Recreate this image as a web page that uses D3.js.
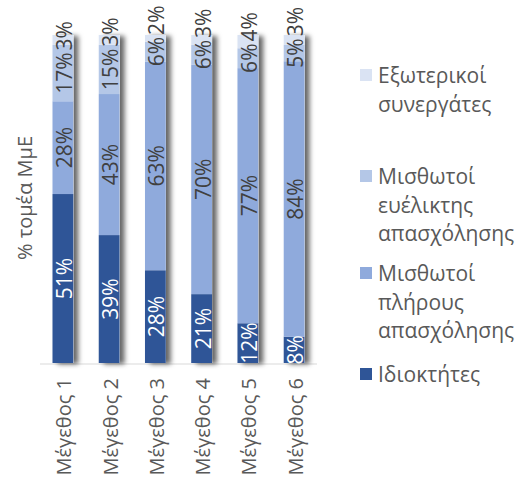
<html>
<script src='https://d3js.org/d3.v7.min.js'></script>
<style>
body {margin: 0; background: #fff;}
text {font-family: 'Open Sans', sans-serif;}
</style>
<body>
<svg id="chart" width="521" height="479"></svg>
<script>
// categories (firm size) and series values, %
var sizes = ["Μέγεθος 1", "Μέγεθος 2", "Μέγεθος 3", "Μέγεθος 4", "Μέγεθος 5", "Μέγεθος 6"];
var owners = [51, 39, 28, 21, 12, 8];
var fullTime = [28, 43, 63, 70, 77, 84];
var flexible = [17, 15, 6, 6, 6, 5];
var external = [3, 3, 2, 3, 4, 3];

var seriesKeys = ["owners", "fullTime", "flexible", "external"];
var seriesNames = {
  owners: ["Ιδιοκτήτες"],
  fullTime: ["Μισθωτοί", "πλήρους", "απασχόλησης"],
  flexible: ["Μισθωτοί", "ευέλικτης", "απασχόλησης"],
  external: ["Εξωτερικοί", "συνεργάτες"]
};
var colors = {owners: "#2F5597", fullTime: "#8FAADC", flexible: "#B4C7E7", external: "#DAE3F3"};

var rows = sizes.map(function(s, i) {
  return {size: s, owners: owners[i], fullTime: fullTime[i], flexible: flexible[i], external: external[i]};
});

var svg = d3.select("#chart");
var plotLeft = 40, plotRight = 317, plotTop = 35, plotBottom = 363;

var x = d3.scaleBand().domain(sizes).range([plotLeft, plotRight]).paddingInner(0.55).paddingOuter(0.27);
var y = d3.scaleLinear().domain([0, 1]).range([plotBottom, plotTop]);

var stack = d3.stack().keys(seriesKeys).offset(d3.stackOffsetExpand);
var layers = stack(rows);

// drop shadow like the office chart
var defs = svg.append("defs");
var f = defs.append("filter").attr("id", "shadow").attr("x", "-20%").attr("y", "-5%").attr("width", "180%").attr("height", "115%");
f.append("feDropShadow").attr("dx", 5).attr("dy", 1).attr("stdDeviation", 2.5)
  .attr("flood-color", "#000").attr("flood-opacity", 0.6);

// baseline
svg.append("line").attr("x1", plotLeft).attr("x2", plotRight).attr("y1", plotBottom + 1).attr("y2", plotBottom + 1)
  .attr("stroke", "#D9D9D9").attr("stroke-width", 1);

var barsG = svg.append("g");
// shadow shapes, one per bar
barsG.selectAll("rect.sh").data(rows).enter().append("rect")
  .attr("class", "sh")
  .attr("x", function(d) { return x(d.size); })
  .attr("y", y(1))
  .attr("width", x.bandwidth())
  .attr("height", y(0) - y(1))
  .attr("fill", "#fff")
  .attr("filter", "url(#shadow)");

barsG.selectAll("g.layer").data(layers).enter().append("g")
  .attr("class", "layer")
  .attr("fill", function(d) { return colors[d.key]; })
  .selectAll("rect").data(function(d) { return d; }).enter().append("rect")
  .attr("x", function(d) { return x(d.data.size); })
  .attr("y", function(d) { return y(d[1]); })
  .attr("width", x.bandwidth())
  .attr("height", function(d) { return y(d[0]) - y(d[1]); });

// data labels, rotated, centred in segment, pushed up when they collide
var labelsG = svg.append("g");
rows.forEach(function(row, i) {
  var prevTop = null;
  var cx = x(row.size) + x.bandwidth() / 2;
  layers.forEach(function(layer) {
    var seg = layer[i];
    var val = row[layer.key];
    var t = labelsG.append("text")
      .attr("text-anchor", "middle")
      .attr("dominant-baseline", "central")
      .style("font-size", "21px")
      .attr("fill", layer.key === "owners" ? "#fff" : "#404040")
      .text(val + "%");
    var len = t.node().getComputedTextLength();
    var c = (y(seg[0]) + y(seg[1])) / 2;
    if (prevTop !== null && c + len / 2 > prevTop - 2) c = prevTop - 2 - len / 2;
    prevTop = c - len / 2;
    t.attr("transform", "translate(" + (cx + 1) + "," + c + ") rotate(-90)");
  });
});

// category labels
svg.append("g").selectAll("text").data(sizes).enter().append("text")
  .attr("transform", function(d) { return "translate(" + (x(d) + x.bandwidth() / 2 + 1) + "," + 378 + ") rotate(-90)"; })
  .attr("text-anchor", "end")
  .attr("dominant-baseline", "central")
  .style("font-size", "20px")
  .attr("fill", "#595959")
  .text(function(d) { return d; });

// y axis title
svg.append("text")
  .attr("transform", "translate(24,198) rotate(-90)")
  .attr("text-anchor", "middle")
  .attr("dominant-baseline", "central")
  .style("font-size", "20px")
  .attr("fill", "#595959")
  .text("% τομέα ΜμΕ");

// legend
var legendItems = [
  {key: "external", y: 75},
  {key: "flexible", y: 176},
  {key: "fullTime", y: 273},
  {key: "owners", y: 374}
];
var lg = svg.append("g").selectAll("g").data(legendItems).enter().append("g")
  .attr("transform", function(d) { return "translate(360," + d.y + ")"; });
lg.append("rect").attr("x", 0).attr("y", -6).attr("width", 12).attr("height", 12)
  .attr("fill", function(d) { return colors[d.key]; });
lg.each(function(d) {
  var g = d3.select(this);
  seriesNames[d.key].forEach(function(line, j) {
    g.append("text")
      .attr("x", 18)
      .attr("y", j * 28.5)
      .attr("dominant-baseline", "central")
      .style("font-size", "21px")
      .attr("fill", "#595959")
      .text(line);
  });
});
</script>
</body>
</html>
